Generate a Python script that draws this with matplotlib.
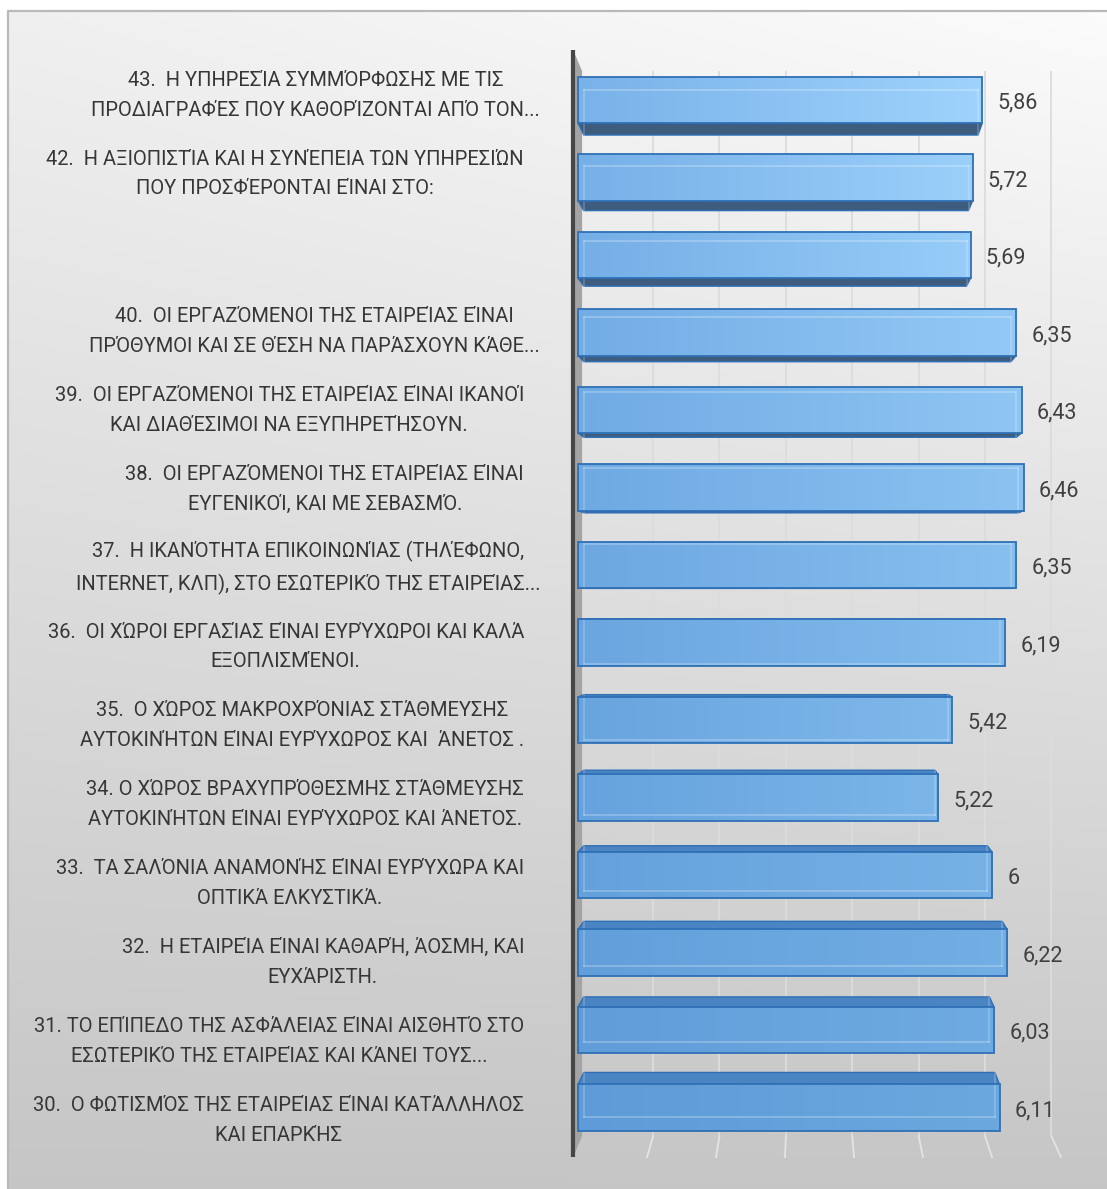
import numpy as np
import matplotlib
matplotlib.use("Agg")
import matplotlib.pyplot as plt
from matplotlib.patches import Polygon
from matplotlib.colors import to_rgb

plt.rcParams["font.family"] = ["Roboto", "DejaVu Sans"]

# ---- data (top row first) ----
categories = [
    "43.  Η ΥΠΗΡΕΣΊΑ ΣΥΜΜΌΡΦΩΣΗΣ ΜΕ ΤΙΣ\nΠΡΟΔΙΑΓΡΑΦΈΣ ΠΟΥ ΚΑΘΟΡΊΖΟΝΤΑΙ ΑΠΌ ΤΟΝ...",
    "42.  Η ΑΞΙΟΠΙΣΤΊΑ ΚΑΙ Η ΣΥΝΈΠΕΙΑ ΤΩΝ ΥΠΗΡΕΣΙΏΝ\nΠΟΥ ΠΡΟΣΦΈΡΟΝΤΑΙ ΕΊΝΑΙ ΣΤΟ:",
    "",
    "40.  ΟΙ ΕΡΓΑΖΌΜΕΝΟΙ ΤΗΣ ΕΤΑΙΡΕΊΑΣ ΕΊΝΑΙ\nΠΡΌΘΥΜΟΙ ΚΑΙ ΣΕ ΘΈΣΗ ΝΑ ΠΑΡΆΣΧΟΥΝ ΚΆΘΕ...",
    "39.  ΟΙ ΕΡΓΑΖΌΜΕΝΟΙ ΤΗΣ ΕΤΑΙΡΕΊΑΣ ΕΊΝΑΙ ΙΚΑΝΟΊ\nΚΑΙ ΔΙΑΘΈΣΙΜΟΙ ΝΑ ΕΞΥΠΗΡΕΤΉΣΟΥΝ.",
    "38.  ΟΙ ΕΡΓΑΖΌΜΕΝΟΙ ΤΗΣ ΕΤΑΙΡΕΊΑΣ ΕΊΝΑΙ\nΕΥΓΕΝΙΚΟΊ, ΚΑΙ ΜΕ ΣΕΒΑΣΜΌ.",
    "37.  Η ΙΚΑΝΌΤΗΤΑ ΕΠΙΚΟΙΝΩΝΊΑΣ (ΤΗΛΈΦΩΝΟ,\nINTERNET, ΚΛΠ), ΣΤΟ ΕΣΩΤΕΡΙΚΌ ΤΗΣ ΕΤΑΙΡΕΊΑΣ...",
    "36.  ΟΙ ΧΏΡΟΙ ΕΡΓΑΣΊΑΣ ΕΊΝΑΙ ΕΥΡΎΧΩΡΟΙ ΚΑΙ ΚΑΛΆ\nΕΞΟΠΛΙΣΜΈΝΟΙ.",
    "35.  Ο ΧΏΡΟΣ ΜΑΚΡΟΧΡΌΝΙΑΣ ΣΤΆΘΜΕΥΣΗΣ\nΑΥΤΟΚΙΝΉΤΩΝ ΕΊΝΑΙ ΕΥΡΎΧΩΡΟΣ ΚΑΙ  ΆΝΕΤΟΣ .",
    "34. Ο ΧΏΡΟΣ ΒΡΑΧΥΠΡΌΘΕΣΜΗΣ ΣΤΆΘΜΕΥΣΗΣ\nΑΥΤΟΚΙΝΉΤΩΝ ΕΊΝΑΙ ΕΥΡΎΧΩΡΟΣ ΚΑΙ ΆΝΕΤΟΣ.",
    "33.  ΤΑ ΣΑΛΌΝΙΑ ΑΝΑΜΟΝΉΣ ΕΊΝΑΙ ΕΥΡΎΧΩΡΑ ΚΑΙ\nΟΠΤΙΚΆ ΕΛΚΥΣΤΙΚΆ.",
    "32.  Η ΕΤΑΙΡΕΊΑ ΕΊΝΑΙ ΚΑΘΑΡΉ, ΆΟΣΜΗ, ΚΑΙ\nΕΥΧΆΡΙΣΤΗ.",
    "31. ΤΟ ΕΠΊΠΕΔΟ ΤΗΣ ΑΣΦΆΛΕΙΑΣ ΕΊΝΑΙ ΑΙΣΘΗΤΌ ΣΤΟ\nΕΣΩΤΕΡΙΚΌ ΤΗΣ ΕΤΑΙΡΕΊΑΣ ΚΑΙ ΚΆΝΕΙ ΤΟΥΣ...",
    "30.  Ο ΦΩΤΙΣΜΌΣ ΤΗΣ ΕΤΑΙΡΕΊΑΣ ΕΊΝΑΙ ΚΑΤΆΛΛΗΛΟΣ\nΚΑΙ ΕΠΑΡΚΉΣ",
]
values = [5.86, 5.72, 5.69, 6.35, 6.43, 6.46, 6.35, 6.19, 5.42, 5.22, 6.00, 6.22, 6.03, 6.11]
grid_ticks = [1, 2, 3, 4, 5, 6, 7]

# ---- layout (pixels) ----
W, H = 1107, 1189
X0, XS = 578.0, 69.0      # value 0 position and pixels per unit
Y0, YS = 100.0, 77.5      # first row centre and pixels per row
XMIN, XMAX = -0.3, 7.5
YMIN, YMAX = -0.8, 13.9
HALF = 0.297              # half bar height in rows

VP = (3.33, 6.5)          # vanishing point in data units
K_BAR = 0.975             # depth scale of the bars' back faces
K_WALL = 0.962            # depth scale of the back wall / floor
K_LABEL = 1.0174          # category labels sit slightly in front


def proj(x, y, k):
    return VP[0] + (x - VP[0]) * k, VP[1] + (y - VP[1]) * k


fig = plt.figure(figsize=(W / 100, H / 100), dpi=100)
fig.patch.set_facecolor("white")

# background panel with a vertical grey gradient
bg = fig.add_axes([0, 0, 1, 1])
bg.set_xlim(0, W)
bg.set_ylim(H, 0)
bg.set_axis_off()
yy = np.linspace(0, 1, 256)[:, None]
xx = np.linspace(0, 1, 64)[None, :]
top = 0.94 + 0.045 * xx
bottom = 0.775 + 0.0 * xx
g = top + (bottom - top) * yy
bg.imshow(np.dstack([g, g, g]), extent=(8, W, H, 11), aspect="auto",
          interpolation="bilinear", zorder=0)
bg.plot([8, 8, W], [H, 11, 11], color="#b9b9b9", lw=1.6, zorder=1)

# plot area
lp, rp = X0 + XMIN * XS, X0 + XMAX * XS
tp, bp = Y0 + YMIN * YS, Y0 + YMAX * YS
ax = fig.add_axes([lp / W, 1 - bp / H, (rp - lp) / W, (bp - tp) / H])
ax.set_axis_off()
ax.patch.set_alpha(0)

n = len(values)
rows = np.arange(n)

wall_x = -0.07
wall_top, wall_bot = -0.645, 13.64

# gridlines on the back wall and the floor
for t in grid_ticks:
    x1, y1 = proj(t, wall_top, K_WALL)
    x2, y2 = proj(t, wall_bot, K_WALL)
    ax.plot([x1, x2], [y1, y2], color="#dcdcdc", lw=1.3, zorder=1,
            solid_capstyle="butt")
    ax.plot([x2, t], [y2, wall_bot], color="#e4e4e4", lw=1.3, zorder=1)

# left side wall
bt = proj(wall_x, wall_top, K_WALL)
bb = proj(wall_x, wall_bot, K_WALL)
ax.add_patch(Polygon([(wall_x, wall_top), (wall_x, wall_bot), bb, bt],
                     closed=True, facecolor="#a4a4a4", edgecolor="none", zorder=2))
ax.plot([wall_x, wall_x], [wall_top, wall_bot], color="#474747", lw=3.0,
        zorder=7, solid_capstyle="butt")

# colours per row, from light (top) to deeper blue (bottom)
left_top, left_bot = np.array(to_rgb("#79b2e9")), np.array(to_rgb("#5e9bd8"))
right_top, right_bot = np.array(to_rgb("#9fd3fd")), np.array(to_rgb("#6ba8df"))
edge_col = "#2f70b6"

bars = ax.barh(rows, values, height=2 * HALF, left=0, color="none",
               edgecolor=edge_col, linewidth=1.3, zorder=6)

for r, v, bar in zip(rows, values, bars):
    t = r / (n - 1)
    lc = left_top + (left_bot - left_top) * t
    rc = right_top + (right_bot - right_top) * t
    s = np.linspace(0, 1, 128)[None, :, None]
    grad = lc[None, None, :] * (1 - s) + rc[None, None, :] * s
    im = ax.imshow(grad, extent=(0, v, r + HALF, r - HALF), aspect="auto",
                   interpolation="bilinear", zorder=4)
    im.set_clip_path(bar)

    if r < VP[1]:
        ye, yo = r + HALF, r - HALF
        face = "#3d5c7e"
    else:
        ye, yo = r - HALF, r + HALF
        face = "#4b84c3"
    p0, p1 = proj(0, ye, K_BAR), proj(v, ye, K_BAR)
    ax.add_patch(Polygon([(0, ye), (v, ye), p1, p0], closed=True,
                         facecolor=face, edgecolor=edge_col, lw=1.0, zorder=3))

    # back edges seen through the translucent front face
    q0, q1 = proj(0, yo, K_BAR), proj(v, yo, K_BAR)
    ax.plot([q0[0], q1[0]], [q0[1], q1[1]], color="white", alpha=0.28, lw=1.2, zorder=5)
    ax.plot([p0[0], q0[0]], [p0[1], q0[1]], color="white", alpha=0.22, lw=1.2, zorder=5)
    ax.plot([p1[0], q1[0]], [p1[1], q1[1]], color="white", alpha=0.22, lw=1.2, zorder=5)

    label = f"{v:g}".replace(".", ",")
    ax.text(v + 0.22, r + 0.04, label, ha="left", va="center",
            fontsize=15.5, color="#404040", zorder=8)

# category labels
LABEL_X = (524 - X0) / XS
ELLIPSIS_SHIFT = 16 / XS
for r, txt in zip(rows, categories):
    if not txt:
        continue
    lines = txt.split("\n")
    longest = max(lines, key=len)
    x = LABEL_X + (ELLIPSIS_SHIFT if longest.endswith("...") else 0)
    _, ly = proj(0, r, K_LABEL)
    ax.text(x, ly + 0.05, txt, ha="right", va="center", multialignment="center",
            fontsize=14.5, linespacing=1.72, color="#363636", zorder=8,
            clip_on=False)

ax.set_xlim(XMIN, XMAX)
ax.set_ylim(YMAX, YMIN)

fig.savefig("out.png", dpi=100)
